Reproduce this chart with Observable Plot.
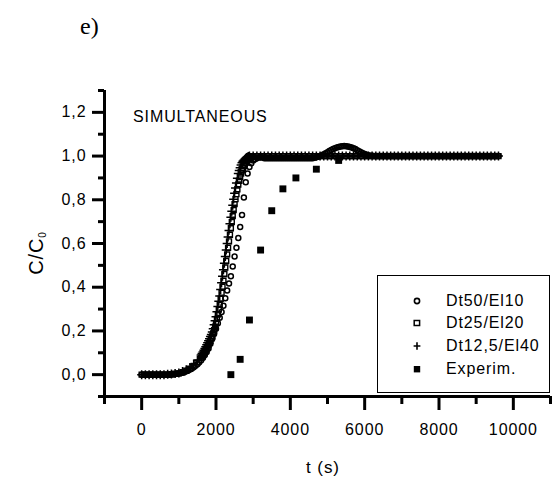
<!DOCTYPE html>
<html><head><meta charset="utf-8">
<script src="https://cdn.jsdelivr.net/npm/d3@7"></script>
<script src="https://cdn.jsdelivr.net/npm/@observablehq/plot@0.6"></script>
<style>
body{margin:0;background:#fff;}
#wrap{position:relative;width:558px;height:483px;background:#fff;font-family:"Liberation Sans",Arial,sans-serif;}
#legend{position:absolute;left:377px;top:275px;width:173px;height:118px;border:1.5px solid #000;background:#fff;box-sizing:border-box;}
.lrow{position:absolute;left:0;height:20px;font-size:16px;letter-spacing:0.9px;line-height:20px;}
.lrow svg{position:absolute;left:32px;top:3px;}
.lrow span{position:absolute;left:68px;white-space:nowrap;}
</style></head><body><div id="wrap"></div><script>
// ---- Dt50/El10 (circles) ----
const timeC = [0,50,100,150,200,250,300,350,400,450,
500,550,600,650,700,750,800,850,900,950,
1000,1050,1100,1150,1200,1250,1300,1350,1400,1450,
1500,1550,1600,1650,1700,1750,1800,1850,1900,1950,
2000,2050,2100,2150,2200,2250,2300,2350,2400,2450,
2500,2550,2600,2650,2700,2750,2800,2850,2900,2950,
3000,3050,3100,3150,3200,3250,3300,3350,3400,3450,
3500,3550,3600,3650,3700,3750,3800,3850,3900,3950,
4000,4050,4100,4150,4200,4250,4300,4350,4400,4450,
4500,4550,4600,4650,4700,4750,4800,4850,4900,4950,
5000,5050,5100,5150,5200,5250,5300,5350,5400,5450,
5500,5550,5600,5650,5700,5750,5800,5850,5900,5950,
6000,6050,6100,6150,6200,6250,6300,6350,6400,6450,
6500,6550,6600,6650,6700,6750,6800,6850,6900,6950,
7000,7050,7100,7150,7200,7250,7300,7350,7400,7450,
7500,7550,7600,7650,7700,7750,7800,7850,7900,7950,
8000,8050,8100,8150,8200,8250,8300,8350,8400,8450,
8500,8550,8600,8650,8700,8750,8800,8850,8900,8950,
9000,9050,9100,9150,9200,9250,9300,9350,9400,9450,
9500,9550,9600];
const dt50 = [0,0,0,0,0,0,0,0,0,0,
0,0,0,0,0,0,0.001,0.002,0.003,0.004,
0.005,0.007,0.009,0.012,0.015,0.019,0.023,0.028,0.034,0.041,
0.048,0.057,0.066,0.077,0.09,0.104,0.12,0.141,0.165,0.187,
0.21,0.235,0.26,0.287,0.315,0.35,0.385,0.417,0.45,0.495,
0.54,0.58,0.625,0.675,0.73,0.81,0.88,0.92,0.95,0.967,
0.98,0.986,0.99,0.993,0.995,0.993,0.99,0.99,0.99,0.99,
0.99,0.99,0.99,0.99,0.99,0.99,0.99,0.99,0.99,0.99,
0.99,0.99,0.99,0.99,0.99,0.99,0.99,0.99,0.99,0.99,
0.99,0.99,0.99,0.992,0.995,0.997,1,1.004,1.008,1.013,
1.018,1.023,1.028,1.032,1.036,1.039,1.042,1.044,1.045,1.046,
1.045,1.044,1.042,1.039,1.036,1.032,1.027,1.022,1.017,1.013,
1.009,1.006,1.004,1.002,1.001,1,1,1,1,1,
1,1,1,1,1,1,1,1,1,1,
1,1,1,1,1,1,1,1,1,1,
1,1,1,1,1,1,1,1,1,1,
1,1,1,1,1,1,1,1,1,1,
1,1,1,1,1,1,1,1,1,1,
1,1,1,1,1,1,1,1,1,1,
1,1,1];
// ---- Dt25/El20 (squares) ----
const timeS = [0,100,200,300,400,500,600,700,800,900,
1000,1100,1200,1300,1400,1500,1600,
1625,1650,1675,1700,1725,1750,1775,1800,1825,1850,1875,1900,
1925,1950,1975,2000,2025,2050,2075,2100,2125,2150,2175,2200,
2225,2250,2275,2300,2325,2350,2375,2400,2425,2450,2475,2500,
2525,2550,2575,2600,2625,2650,2675,2700,2725,2750,2775,2800,
2825,2850,2875,2900,2925,2950,2975,
3000,3100,3200,3300,3400,3500,3600,3700,3800,3900,
4000,4100,4200,4300,4400,4500,4600,4700,4800,4900,
5000,5100,5200,5300,5400,5500,5600,5700,5800,5900,
6000,6100,6200,6300,6400,6500,6600,6700,6800,6900,
7000,7100,7200,7300,7400,7500,7600,7700,7800,7900,
8000,8100,8200,8300,8400,8500,8600,8700,8800,8900,
9000,9100,9200,9300,9400,9500,9600];
const dt25 = [0,0,0,0,0,0,0,0,0.002,0.004,
0.006,0.011,0.018,0.027,0.04,0.056,0.077,
0.083,0.09,0.097,0.104,0.112,0.12,0.128,0.137,0.146,0.155,0.165,0.175,
0.189,0.203,0.219,0.235,0.255,0.276,0.298,0.32,0.347,0.375,0.402,0.43,
0.46,0.49,0.52,0.55,0.58,0.61,0.64,0.67,0.698,0.725,0.753,0.78,
0.803,0.826,0.848,0.87,0.887,0.904,0.92,0.935,0.945,0.954,0.962,0.97,
0.976,0.981,0.986,0.99,0.993,0.996,0.998,
1,1,1,1,1,1,1,1,1,1,
1,1,1,1,1,1,1,1,1,1,
1,1,1,1,1,1,1,1,1,1,
1,1,1,1,1,1,1,1,1,1,
1,1,1,1,1,1,1,1,1,1,
1,1,1,1,1,1,1,1,1,1,
1,1,1,1,1,1,1];
// ---- Dt12,5/El40 (plus) ----
const timeP = [0,100,200,300,400,500,600,700,800,900,
1000,1100,1200,1300,1400,1500,1600,
1625,1650,1675,1700,1725,1750,1775,1800,1825,1850,1875,1900,
1925,1950,1975,2000,2025,2050,2075,2100,2125,2150,2175,2200,
2225,2250,2275,2300,2325,2350,2375,2400,2425,2450,2475,2500,
2525,2550,2575,2600,2625,2650,2675,2700,2725,2750,2775,2800,
2825,2850,2875,
2900,3000,3100,3200,3300,3400,3500,3600,3700,3800,3900,
4000,4100,4200,4300,4400,4500,4600,4700,4800,4900,
5000,5100,5200,5300,5400,5500,5600,5700,5800,5900,
6000,6100,6200,6300,6400,6500,6600,6700,6800,6900,
7000,7100,7200,7300,7400,7500,7600,7700,7800,7900,
8000,8100,8200,8300,8400,8500,8600,8700,8800,8900,
9000,9100,9200,9300,9400,9500,9600];
const dt125 = [0,0,0,0,0,0,0,0.002,0.003,0.005,
0.008,0.014,0.022,0.033,0.048,0.066,0.09,
0.097,0.104,0.112,0.12,0.128,0.137,0.146,0.155,0.164,0.174,0.184,0.195,
0.21,0.228,0.246,0.265,0.288,0.312,0.336,0.36,0.39,0.42,0.45,0.48,
0.51,0.54,0.57,0.6,0.63,0.66,0.69,0.72,0.748,0.775,0.803,0.83,
0.854,0.877,0.899,0.92,0.934,0.947,0.959,0.97,0.976,0.981,0.986,0.99,
0.993,0.996,0.998,
1,1,1,1,1,1,1,1,1,1,1,
1,1,1,1,1,1,1,1,1,1,
1,1,1,1,1,1,1,1,1,1,
1,1,1,1,1,1,1,1,1,1,
1,1,1,1,1,1,1,1,1,1,
1,1,1,1,1,1,1,1,1,1,
1,1,1,1,1,1,1];
// ---- Experimental points ----
const expTime = [2400,2650,2900,3200,3500,3800,4150,4700,5300];
const expC = [0.0,0.07,0.25,0.57,0.75,0.85,0.90,0.94,0.98];

const xMajor = [0,2000,4000,6000,8000,10000];
const xMinor = [-1000,1000,3000,5000,7000,9000,11000];
const yMajor = [0,0.2,0.4,0.6,0.8,1.0,1.2];
const yMinor = [-0.1,0.1,0.3,0.5,0.7,0.9,1.1,1.3];
const legendLabels = ["Dt50/El10","Dt25/El20","Dt12,5/El40","Experim."];
const titleText = "SIMULTANEOUS";
const panelText = "e)";

const simC = timeC.map((t,i)=>({t, v: dt50[i]}));
const simS = timeS.map((t,i)=>({t, v: dt25[i]}));
const simP = timeP.map((t,i)=>({t, v: dt125[i]}));
const exp = expTime.map((t,i)=>({t, v: expC[i]}));

const chart = Plot.plot({
  width: 558, height: 483,
  marginLeft: 104, marginRight: 8, marginTop: 90, marginBottom: 87,
  x: {domain: [-1000, 11000]},
  y: {domain: [-0.1, 1.3]},
  marks: [
    Plot.axisX({ticks: xMinor, tickSize: 8, tickFormat: () => "", label: null, strokeWidth: 3, stroke: "#000"}),
    Plot.axisX({ticks: xMajor, tickSize: 14, tickPadding: 13, tickFormat: d => String(d), label: null, strokeWidth: 3, stroke: "#000"}),
    Plot.axisY({ticks: yMinor, tickSize: 6, tickFormat: () => "", label: null, strokeWidth: 3, stroke: "#000"}),
    Plot.axisY({ticks: yMajor, tickSize: 12, tickPadding: 6, tickFormat: d => d.toFixed(1).replace(".", ","), label: null, strokeWidth: 3, stroke: "#000"}),
    Plot.ruleX([-1000], {strokeWidth: 3, stroke: "#000"}),
    Plot.ruleY([-0.1], {strokeWidth: 3, stroke: "#000"}),
    Plot.dot(simP, {x: "t", y: "v", symbol: "plus", r: 3, stroke: "#000", strokeWidth: 1.5}),
    Plot.dot(simS, {x: "t", y: "v", symbol: "square", r: 2.8, stroke: "#000", fill: "none", strokeWidth: 1.4}),
    Plot.dot(simC, {x: "t", y: "v", symbol: "circle", r: 2.5, stroke: "#000", fill: "none", strokeWidth: 1.5}),
    Plot.dot(exp, {x: "t", y: "v", symbol: "square", r: 3.9, fill: "#000", stroke: "none"})
  ]
});
const wrap = document.getElementById("wrap");
wrap.appendChild(chart);
const svg = d3.select(chart);
svg.attr("font-family", '"Liberation Sans", Arial, sans-serif').attr("font-size", 16)
  .style("letter-spacing", "0.9px").style("color", "#000").style("overflow", "visible");
svg.append("text").attr("x", 80).attr("y", 34).attr("text-anchor", "start")
  .attr("font-family", '"Liberation Serif", "Times New Roman", serif')
  .attr("font-size", 24).style("letter-spacing", "0px").attr("fill", "#000").text(panelText);
svg.append("text").attr("x", 133).attr("y", 122).attr("text-anchor", "start").attr("font-size", 16).attr("fill", "#000").text(titleText);
svg.append("text").attr("x", 323).attr("y", 473).attr("text-anchor", "middle").attr("font-size", 17).attr("fill", "#000").text("t (s)");
const yl = svg.append("text").attr("transform", "translate(43,253) rotate(-90)").attr("text-anchor", "middle").attr("font-size", 20).attr("fill", "#000");
yl.append("tspan").text("C/C");
yl.append("tspan").attr("font-size", 10).attr("dy", 3).text("0");

const legend = document.createElement("div");
legend.id = "legend";
wrap.appendChild(legend);
const rowTops = [15, 37, 60, 83];
const symbolSvgs = [
  '<svg width="14" height="14"><circle cx="7" cy="7" r="2.6" fill="none" stroke="#000" stroke-width="1.6"/></svg>',
  '<svg width="14" height="14"><rect x="4.2" y="4.5" width="5.4" height="5" fill="none" stroke="#000" stroke-width="1.5"/></svg>',
  '<svg width="14" height="14"><path d="M7,3.3V10.7M3.6,7H10.4" stroke="#000" stroke-width="1.6"/></svg>',
  '<svg width="14" height="14"><rect x="3.8" y="4" width="6.4" height="6.4" fill="#000"/></svg>'
];
legendLabels.forEach((lab, i) => {
  const r = document.createElement("div");
  r.className = "lrow";
  r.style.top = rowTops[i] + "px";
  r.innerHTML = symbolSvgs[i] + "<span>" + lab + "</span>";
  legend.appendChild(r);
});
</script></body></html>
